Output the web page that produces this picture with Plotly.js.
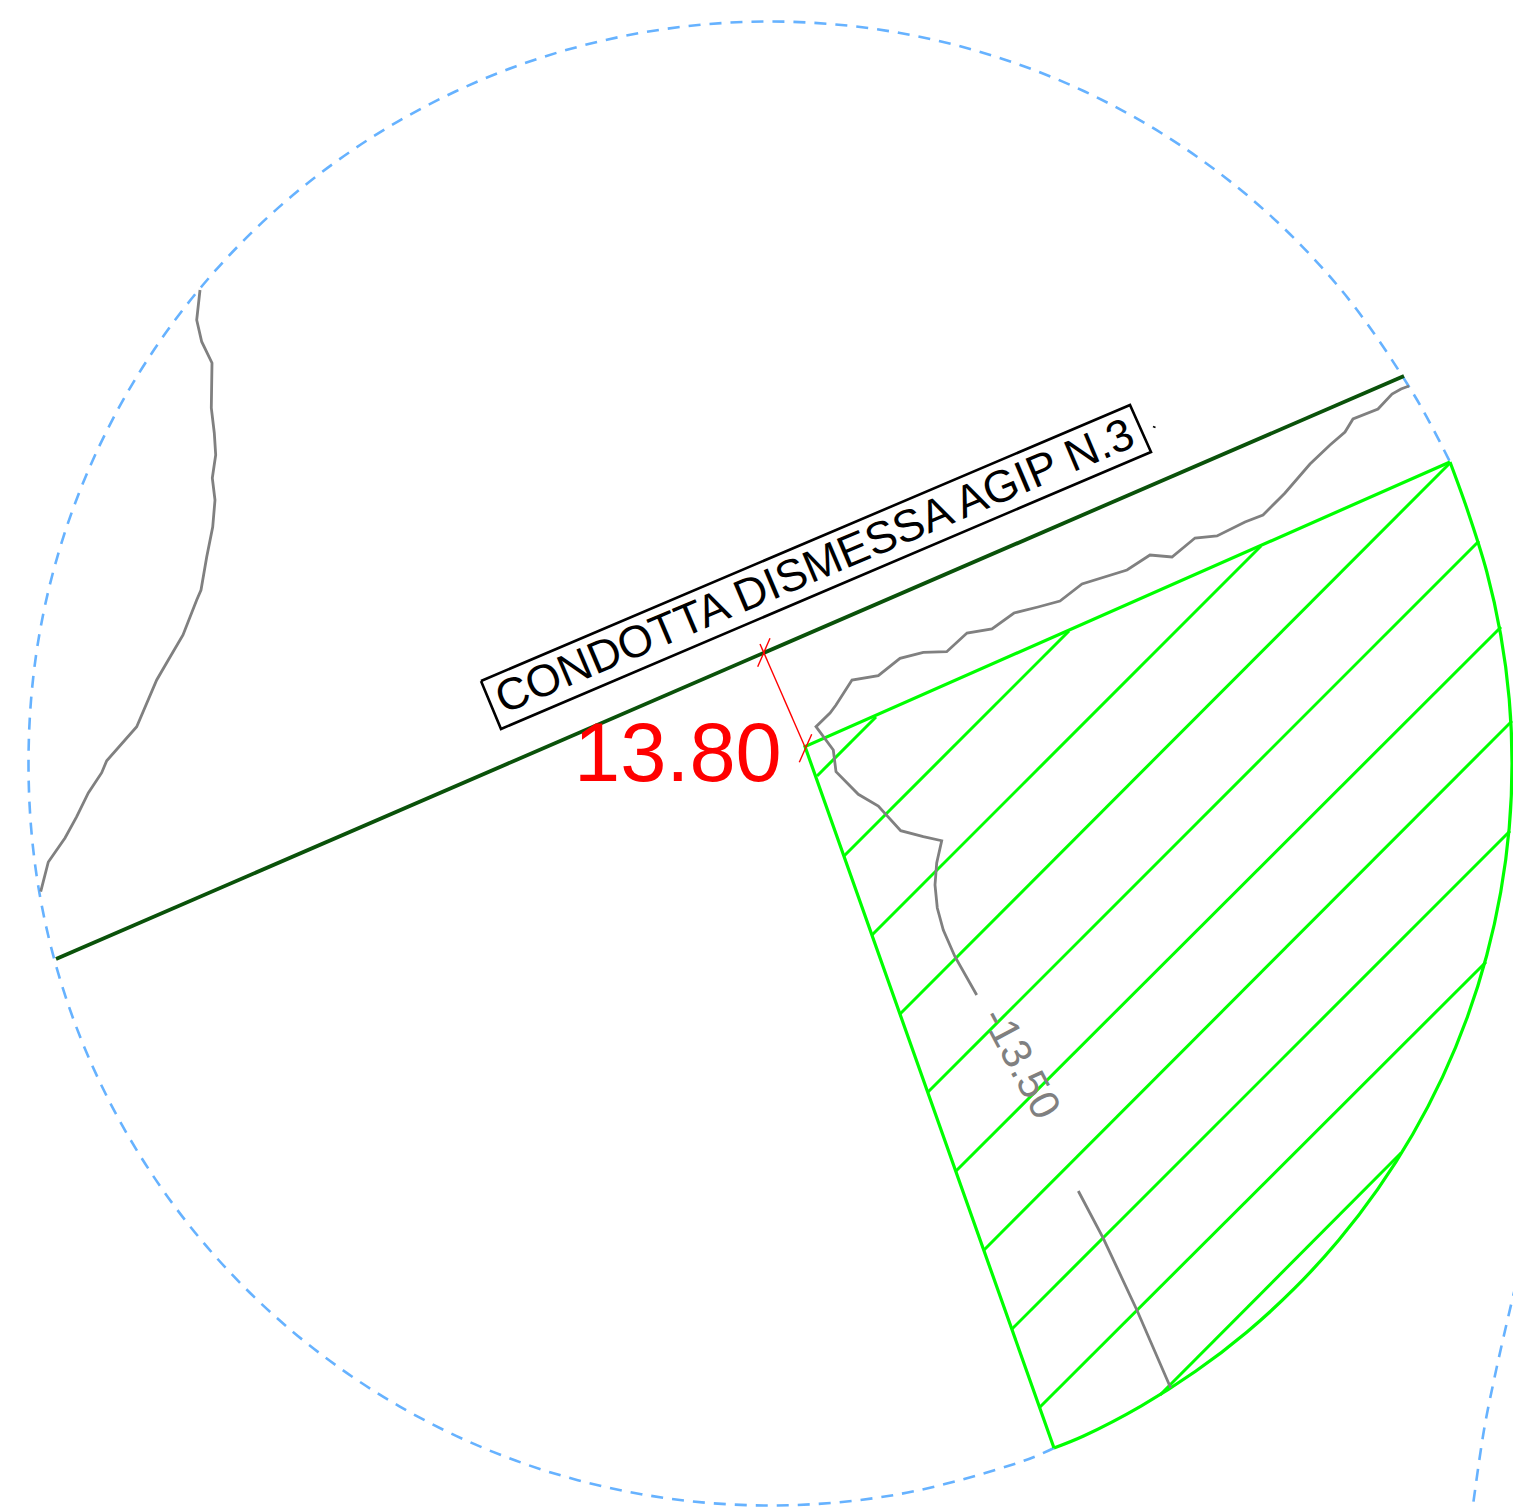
<!DOCTYPE html>
<html><head><meta charset="utf-8">
<script src="https://cdn.plot.ly/plotly-3.0.1.min.js"></script>
<style>html,body{margin:0;padding:0;background:#fff}</style></head>
<body><div id="chart" style="width:1513px;height:1507px"></div>
<script>
const bufferArcX=[1054,1023.8,898.8,770,641.2,516.2,399,293,201.6,127.4,72.7,39.3,28.5,39.3,72.7,127.4,201.6,293,399,516.2,641.2,770,898.8,1023.8,1141,1247,1338.4,1412.6,1450];
const bufferArcY=[1448,1460.8,1494.2,1505.5,1494.2,1460.8,1406.1,1331.9,1240.5,1134.5,1017.3,892.3,763.5,634.7,509.7,392.5,286.5,195.1,120.9,66.2,32.8,21.5,32.8,66.2,120.9,195.1,286.5,392.5,462];
const nextArcX=[1516,1504,1494,1484,1471];
const nextArcY=[1284,1335,1380,1430,1520];
const pipeX=[56,1404];
const pipeY=[959,376];
const zoneEdgeX=[1450,805,1054];
const zoneEdgeY=[462,746.5,1448];
const zoneArcX=[1054,1083.6,1141,1195.6,1247,1294.7,1338.4,1377.8,1412.6,1442.5,1467.3,1486.7,1500.7,1509.2,1512,1509.2,1500.7,1486.7,1467.3,1450];
const zoneArcY=[1448,1436,1406.1,1371.3,1331.9,1288.2,1240.5,1189.1,1134.5,1077.1,1017.3,955.5,892.3,828.2,763.5,698.8,634.7,571.5,509.7,462];
const hatchX=[817,876,null,844,1069,null,872,1261,null,900,1450,null,928,1479,null,956,1501,null,984,1512,null,1012,1510,null,1040,1486,null,1160,1401];
const hatchY=[776,717,null,856,631,null,935,546,null,1014,463,null,1092,541,null,1171,627,null,1250,721,null,1329,831,null,1407,962,null,1395,1153];
const contourLeftX=[200,196.7,201.7,212,211.3,214.3,215.7,212.3,215,212.7,206.7,201,196.7,183,168.3,156.7,136.7,106.7,101.7,88.3,76.7,65,48.3,40.7];
const contourLeftY=[290,320,341.7,363,408,433,455,478,500,527,557,590,600,635,660,680,726.7,760.7,772.7,793,816.7,838,862,891.7];
const contourRightX=[976.7,965,955,943.3,937.3,935,936.7,941.7,923.3,900.7,878.3,858.3,836,833.3,816,830,836,852,878.3,900,923.3,946.7,967,992,1014,1038,1060,1082,1127,1150,1172,1195,1217,1245,1263,1285,1310,1330,1345,1353,1378,1392,1401,1409];
const contourRightY=[995,975,956.7,930,908,885,863,840.7,836.7,830.7,806,794.3,771.7,750,726.7,713,705,680,675.7,658.3,652.3,651.7,633,629,613,607,601,584,570,555,557,538,536,522,515,493,464,445,432,419,409,394,389,386];
const contourLowX=[1078.3,1103.3,1137.3,1170.7];
const contourLowY=[1191,1238.3,1311,1388];
const labelBoxX=[481,1130,1151,501,481];
const labelBoxY=[681,405,452,729,681];
const dotX=[1153,1155.5];
const dotY=[426.5,427.5];
const dimX=[760,805,null,770,757.7,null,811.7,799.3];
const dimY=[644,747,null,638.3,666.7,null,734.3,762.3];
const labelText="CONDOTTA DISMESSA AGIP N.3";
const distanceText="13.80";
const depthText="-13.50";

function line(x,y,color,width,extra){
  return {type:'scatter',mode:'lines',x,y,hoverinfo:'skip',line:Object.assign({color,width},extra||{})};
}
const traces=[
  line(bufferArcX,bufferArcY,'#66b2ff',2.6,{shape:'spline',dash:'12px,9px'}),
  line(nextArcX,nextArcY,'#66b2ff',2.6,{shape:'spline',dash:'12px,9px'}),
  line(hatchX,hatchY,'#00ff00',3),
  line(zoneEdgeX,zoneEdgeY,'#00ff00',3.2),
  line(zoneArcX,zoneArcY,'#00ff00',3.2,{shape:'spline'}),
  line(contourLeftX,contourLeftY,'#808080',2.8),
  line(contourRightX,contourRightY,'#808080',2.8),
  line(contourLowX,contourLowY,'#808080',2.8),
  line(pipeX,pipeY,'#0a520a',3.8),
  line(labelBoxX,labelBoxY,'#000000',2.6),
  line(dotX,dotY,'#000000',1.8),
  line(dimX,dimY,'#ff0000',1.4)
];
const font="'Liberation Sans', Arial, sans-serif";
const layout={
  width:1513,height:1507,margin:{l:0,r:0,t:0,b:0},
  paper_bgcolor:'#fff',plot_bgcolor:'#fff',showlegend:false,hovermode:false,
  xaxis:{range:[0,1513],visible:false,fixedrange:true},
  yaxis:{range:[1507,0],visible:false,fixedrange:true},
  annotations:[
    {x:814,y:565.5,xref:'x',yref:'y',text:labelText,showarrow:false,textangle:-23,xanchor:'center',yanchor:'middle',font:{family:font,size:45,color:'#000'}},
    {x:678,y:752,xref:'x',yref:'y',text:distanceText,showarrow:false,xanchor:'center',yanchor:'middle',font:{family:font,size:83,color:'#ff0000'}},
    {x:1022,y:1062,xref:'x',yref:'y',text:depthText,showarrow:false,textangle:62,xanchor:'center',yanchor:'middle',font:{family:font,size:42,color:'#808080'}}
  ]
};
Plotly.newPlot('chart',traces,layout,{staticPlot:true,displayModeBar:false});
</script></body></html>
